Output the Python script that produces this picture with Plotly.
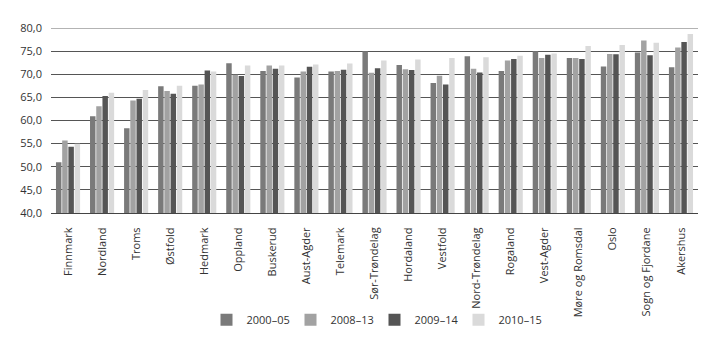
import plotly.graph_objects as go

categories = ["Finnmark", "Nordland", "Troms", "Østfold", "Hedmark", "Oppland", "Buskerud",
              "Aust-Agder", "Telemark", "Sør-Trøndelag", "Hordaland", "Vestfold", "Nord-Trøndelag",
              "Rogaland", "Vest-Agder", "Møre og Romsdal", "Oslo", "Sogn og Fjordane", "Akershus"]
v_2000_05 = [51.0, 60.9, 58.3, 67.4, 67.5, 72.4, 70.7, 69.3, 70.6, 75.0, 72.0, 68.1, 73.9,
             70.7, 75.0, 73.5, 71.7, 74.7, 71.5]
v_2008_13 = [55.7, 63.1, 64.3, 66.4, 67.8, 69.9, 71.9, 70.6, 70.7, 70.3, 71.1, 69.7, 71.2,
             73.0, 73.5, 73.5, 74.4, 77.3, 75.8]
v_2009_14 = [54.3, 65.3, 64.7, 65.8, 70.8, 69.6, 71.2, 71.6, 71.0, 71.3, 70.9, 67.8, 70.4,
             73.3, 74.2, 73.3, 74.3, 74.1, 77.0]
v_2010_15 = [55.0, 66.0, 66.6, 67.5, 70.6, 71.9, 71.9, 72.1, 72.3, 73.0, 73.2, 73.5, 73.7,
             74.0, 74.5, 76.1, 76.3, 76.8, 78.7]
series_names = ["2000–05", "2008–13", "2009–14", "2010–15"]
series_values = [v_2000_05, v_2008_13, v_2009_14, v_2010_15]
colors = ["#7a7a7a", "#a2a2a2", "#555555", "#dadada"]
y_ticks = [40, 45, 50, 55, 60, 65, 70, 75, 80]

fig = go.Figure()
for name, vals, col in zip(series_names, series_values, colors):
    fig.add_trace(go.Bar(x=categories, y=vals, name=name, marker_color=col,
                         marker_line_width=0))

font = "Open Sans, Noto Sans, sans-serif"
fig.update_layout(
    width=719, height=341,
    margin=dict(l=51, r=21, t=28, b=128, autoexpand=False),
    paper_bgcolor="white", plot_bgcolor="white",
    separators=", ",
    barmode="group", bargap=0.27, bargroupgap=0.12,
    font=dict(family=font, size=11, color="#333333"),
    showlegend=True,
    legend=dict(orientation="h", x=0.5, xanchor="center",
                yref="container", y=0.062, yanchor="middle",
                bgcolor="rgba(0,0,0,0)",
                font=dict(size=11, color="#333333"), itemwidth=30,
                entrywidth=39, entrywidthmode="pixels",
                traceorder="normal", tracegroupgap=0),
    xaxis=dict(tickangle=-90, showgrid=False, showline=True, linecolor="#444444",
               linewidth=1, ticks="", ticklabelstandoff=9, automargin=False,
               tickfont=dict(size=11, color="#333333")),
    yaxis=dict(range=[40, 80], tickvals=y_ticks, tickformat=".1f", showgrid=True,
               gridcolor="#555555", gridwidth=1, zeroline=False, showline=False,
               ticks="", ticklabelstandoff=8, automargin=False,
               tickfont=dict(size=11, color="#333333")),
)
fig.add_shape(type="line", xref="paper", yref="y", x0=0, x1=1, y0=80, y1=80,
              line=dict(color="#9a9a9a", width=1.5), layer="above")
fig.write_html("out.html")
